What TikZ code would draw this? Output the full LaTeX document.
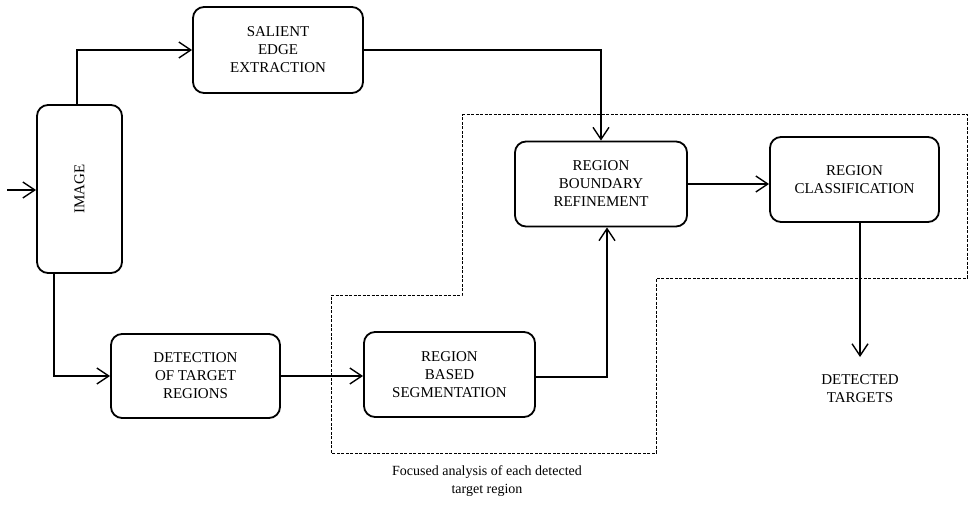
\documentclass[tikz,border=0pt]{standalone}
\usepackage{fontspec}
\setmainfont{Liberation Serif}
\usetikzlibrary{arrows.meta,calc}
\begin{document}
\begin{tikzpicture}[x=1pt,y=-1pt,
  blk/.style={draw,line width=1.8pt,rounded corners=11pt,align=center,inner sep=0pt,
    font=\fontsize{15}{18}\selectfont},
  lbl/.style={align=center,font=\fontsize{15}{18}\selectfont},
  arr/.style={line width=1.7pt,-{Straight Barb[length=12pt,width=16pt,line width=1.4pt]}},
  zone/.style={line width=0.9pt,dash pattern=on 3pt off 1.5pt}]
\useasboundingbox (0,0) rectangle (975,504);
% dashed focus zone
\draw[zone] (462,114) -- (967,114) -- (967,278) -- (656,278) -- (656,453)
  -- (331,453) -- (331,295) -- (462,295) -- cycle;
% blocks
\node[blk,minimum width=85pt,minimum height=168pt] (img) at (79.5,189) {\rotatebox{90}{IMAGE}};
\node[blk,minimum width=170pt,minimum height=86pt] (sal) at (278,50) {SALIENT\\EDGE\\EXTRACTION};
\node[blk,minimum width=172pt,minimum height=85pt] (rbr) at (601,184) {REGION\\BOUNDARY\\REFINEMENT};
\node[blk,minimum width=169pt,minimum height=85pt] (rc) at (854.5,179.5) {REGION\\CLASSIFICATION};
\node[blk,minimum width=169pt,minimum height=84pt] (det) at (195.5,376) {DETECTION\\OF TARGET\\REGIONS};
\node[blk,minimum width=171pt,minimum height=85pt] (rbs) at (449.5,374.5) {REGION\\BASED\\SEGMENTATION};
\node[lbl] (tgt) at (860,389) {DETECTED\\TARGETS};
\node[align=center,font=\fontsize{14}{18}\selectfont] (cap) at (487,481) {Focused analysis of each detected\\target region};
\coordinate (in) at (7,190);
\coordinate (tend) at (860,357);
% connectors
\draw[arr] (in) -- (in -| img.west);
\draw[arr] ([xshift=-2.5pt]img.north) |- (sal.west);
\draw[arr] (sal.east) -| (rbr.north);
\draw[arr] ([xshift=-25.5pt]img.south) |- (det.west);
\draw[arr] (det.east) -- (det.east -| rbs.west);
\draw[arr] ([yshift=-2.5pt]rbs.east) -| ([xshift=6pt]rbr.south);
\draw[arr] (rbr.east) -- (rbr.east -| rc.west);
\draw[arr] ([xshift=5.5pt]rc.south) -- (tend);
\end{tikzpicture}
\end{document}
